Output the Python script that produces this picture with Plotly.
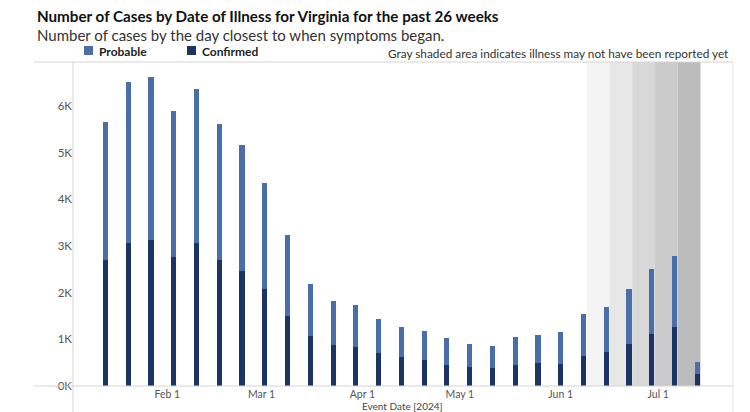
import plotly.graph_objects as go
import pandas as pd

# ---- data ----
week_dates = pd.date_range("2024-01-13", periods=27, freq="7D")
confirmed = [2700, 3070, 3130, 2760, 3060, 2700, 2470, 2080, 1500, 1070,
             880, 840, 710, 620, 550, 450, 400, 390, 460, 490,
             470, 640, 720, 910, 1110, 1260, 250]
total = [5660, 6510, 6620, 5890, 6370, 5610, 5160, 4340, 3240, 2180,
         1830, 1730, 1430, 1270, 1180, 1030, 910, 860, 1050, 1090,
         1160, 1540, 1690, 2070, 2500, 2780, 510]
probable = [t - c for t, c in zip(total, confirmed)]
y_tick_vals = [0, 1000, 2000, 3000, 4000, 5000, 6000]
y_tick_text = ["0K", "1K", "2K", "3K", "4K", "5K", "6K"]
shaded_weeks = 5  # last weeks with gray shading
shade_colors = ["#f4f4f4", "#e7e7e7", "#d8d8d8", "#cbcbcb", "#bcbcbc"]

C_PROB = "#4a6ea8"
C_CONF = "#1b3461"
FONT = "Lato"

W, H = 750, 412
L, R, T, B = 73, 17, 62, 26
PW, PH = W - L - R, H - T - B


def px(x):
    return (x - L) / PW


def py(y):
    return (H - B - y) / PH


bar_w = 1.6 * 86400000

fig = go.Figure()
fig.add_trace(go.Bar(x=week_dates, y=confirmed, name="Confirmed",
                     marker=dict(color=C_CONF, line=dict(width=0)), width=bar_w))
fig.add_trace(go.Bar(x=week_dates, y=probable, name="Probable",
                     marker=dict(color=C_PROB, line=dict(width=0)), width=bar_w))

shapes = []
day = pd.Timedelta(days=1)
for i in range(shaded_weeks):
    d = week_dates[len(week_dates) - shaded_weeks + i]
    shapes.append(dict(type="rect", xref="x", yref="paper",
                       x0=d - 6 * day, x1=d + 1 * day, y0=0, y1=1,
                       fillcolor=shade_colors[i], line=dict(width=0), layer="below"))

line_col = "#d4d4d4"
# frame lines
shapes += [
    dict(type="line", xref="paper", yref="paper", x0=px(34), x1=px(733), y0=1, y1=1,
         line=dict(color=line_col, width=1)),
    dict(type="line", xref="paper", yref="paper", x0=px(34), x1=px(733), y0=0, y1=0,
         line=dict(color=line_col, width=1)),
    dict(type="line", xref="paper", yref="paper", x0=0, x1=0, y0=py(412), y1=1,
         line=dict(color=line_col, width=1)),
    dict(type="line", xref="paper", yref="paper", x0=1, x1=1, y0=py(412), y1=1,
         line=dict(color="#e4e4e4", width=1)),
    # legend squares
    dict(type="rect", xref="paper", yref="paper", x0=px(84), x1=px(93), y0=py(55), y1=py(46),
         fillcolor=C_PROB, line=dict(width=0)),
    dict(type="rect", xref="paper", yref="paper", x0=px(187), x1=px(196), y0=py(55), y1=py(46),
         fillcolor=C_CONF, line=dict(width=0)),
]

annotations = [
    dict(text="<b>Number of Cases by Date of Illness for Virginia for the past 26 weeks</b>",
         x=px(35), y=py(16), xref="paper", yref="paper", xanchor="left", yanchor="middle",
         showarrow=False, font=dict(family=FONT, size=15.2, color="#111111")),
    dict(text="Number of cases by the day closest to when symptoms began.",
         x=px(35), y=py(35), xref="paper", yref="paper", xanchor="left", yanchor="middle",
         showarrow=False, font=dict(family=FONT, size=15, color="#333333")),
    dict(text="<b>Probable</b>", x=px(97), y=py(51), xref="paper", yref="paper",
         xanchor="left", yanchor="middle", showarrow=False,
         font=dict(family=FONT, size=12, color="#222222")),
    dict(text="<b>Confirmed</b>", x=px(200), y=py(51), xref="paper", yref="paper",
         xanchor="left", yanchor="middle", showarrow=False,
         font=dict(family=FONT, size=12, color="#222222")),
    dict(text="Gray shaded area indicates illness may not have been reported yet",
         x=px(731), y=py(54), xref="paper", yref="paper", xanchor="right", yanchor="middle",
         showarrow=False, font=dict(family=FONT, size=11.8, color="#333333")),
    dict(text="Event Date [2024]", x=px(402), y=py(406), xref="paper", yref="paper",
         xanchor="center", yanchor="middle", showarrow=False,
         font=dict(family=FONT, size=10, color="#444444")),
]

fig.update_layout(
    width=W, height=H,
    margin=dict(l=L, r=R, t=T, b=B),
    paper_bgcolor="white", plot_bgcolor="white",
    barmode="stack", bargap=0,
    showlegend=False,
    shapes=shapes, annotations=annotations,
    font=dict(family=FONT, color="#555555"),
    xaxis=dict(type="date", range=["2024-01-03", "2024-07-24"],
               tick0="2024-02-01", dtick="M1", tickformat="%b %-d",
               showgrid=False, showline=False, zeroline=False, ticks="",
               tickfont=dict(family=FONT, size=10.5, color="#555555")),
    yaxis=dict(range=[0, 6940], tickvals=y_tick_vals, ticktext=y_tick_text,
               showgrid=False, showline=False, zeroline=False, ticks="",
               tickfont=dict(family=FONT, size=11.5, color="#555555")),
)

fig.write_html("out.html")
